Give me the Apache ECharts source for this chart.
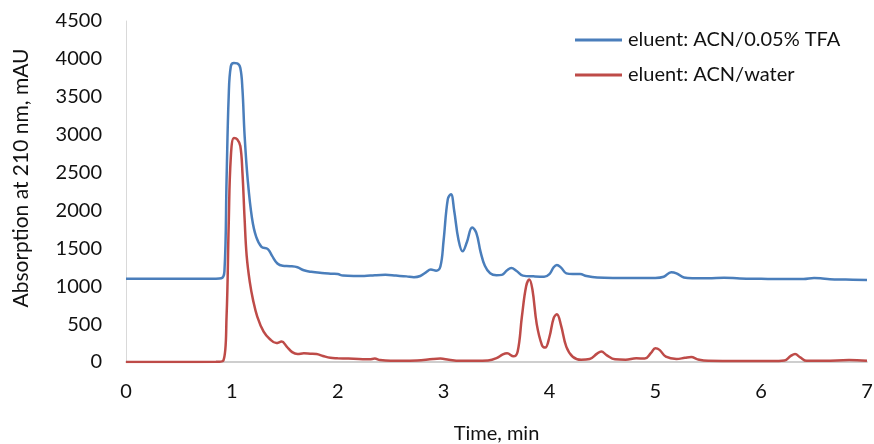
<!DOCTYPE html>
<html><head><meta charset="utf-8">
<script src="https://cdn.jsdelivr.net/npm/echarts@6/dist/echarts.min.js"></script>
<style>html,body{margin:0;padding:0;background:#fff}#c{width:874px;height:444px}</style>
</head><body><div id="c"></div>
<script>
const seriesNames = ['eluent: ACN/0.05% TFA', 'eluent: ACN/water'];
const timesBlue = [0,0.5,0.85,0.9,0.93,0.95,0.97,0.99,1.02,1.05,1.08,1.1,1.12,1.15,1.19,1.23,1.28,1.34,1.38,1.43,1.48,1.55,1.62,1.68,1.75,1.85,1.95,2.0,2.05,2.15,2.25,2.35,2.45,2.55,2.65,2.72,2.78,2.83,2.88,2.93,2.97,3.0,3.04,3.07,3.1,3.14,3.18,3.22,3.27,3.31,3.35,3.39,3.44,3.5,3.55,3.6,3.64,3.69,3.75,3.85,3.95,4.0,4.04,4.07,4.11,4.16,4.22,4.29,4.35,4.45,4.6,4.8,5.0,5.08,5.15,5.2,5.27,5.35,5.5,5.65,5.8,6.0,6.2,6.4,6.5,6.56,6.65,6.8,7.0];
const valuesBlue = [1100,1100,1100,1105,1200,2400,3500,3900,3945,3940,3880,3600,3000,2400,1900,1650,1520,1490,1400,1300,1270,1265,1250,1210,1190,1175,1165,1160,1140,1135,1135,1145,1150,1140,1130,1120,1135,1180,1220,1205,1260,1600,2150,2215,2000,1620,1460,1580,1775,1700,1450,1270,1170,1145,1150,1210,1240,1200,1140,1130,1125,1160,1250,1280,1245,1170,1160,1160,1135,1115,1110,1110,1110,1125,1185,1170,1115,1105,1105,1112,1102,1098,1095,1095,1108,1105,1092,1088,1082];
const timesRed = [0,0.5,0.85,0.92,0.95,0.97,0.99,1.02,1.05,1.08,1.1,1.12,1.14,1.17,1.2,1.24,1.3,1.36,1.42,1.47,1.52,1.57,1.62,1.68,1.74,1.8,1.86,1.93,2.0,2.1,2.2,2.3,2.35,2.4,2.5,2.6,2.75,2.9,2.97,3.05,3.15,3.3,3.42,3.5,3.56,3.6,3.66,3.7,3.74,3.78,3.81,3.84,3.88,3.93,3.96,4.0,4.04,4.07,4.11,4.16,4.22,4.3,4.38,4.45,4.49,4.54,4.62,4.72,4.82,4.9,4.96,5.0,5.04,5.1,5.2,5.28,5.34,5.4,5.5,5.8,6.1,6.22,6.28,6.32,6.37,6.43,6.6,6.83,7.0];
const valuesRed = [0,0,2,20,600,1800,2700,2955,2940,2850,2500,1900,1400,1050,820,600,400,300,250,270,200,130,105,115,110,105,80,55,50,45,40,35,45,25,15,15,20,40,45,30,15,15,20,50,100,115,75,140,600,1000,1090,950,500,220,190,330,580,630,480,200,70,30,40,110,140,90,35,30,50,45,120,180,160,70,40,55,65,35,15,12,12,20,80,105,60,15,15,25,15];
const xTicks = [0,1,2,3,4,5,6,7];
const yTicks = [0,500,1000,1500,2000,2500,3000,3500,4000,4500];
const xTitle = 'Time, min';
const yTitle = 'Absorption at 210 nm, mAU';

const zip = (t, v) => t.map((x, i) => [x, v[i]]);
const font = 'Lato, "Open Sans", sans-serif';
const chart = echarts.init(document.getElementById('c'), null, {renderer: 'canvas'});
chart.setOption({
  animation: false,
  backgroundColor: '#fff',
  grid: {left: 126, right: 7, top: 21, bottom: 82, containLabel: false, outerBoundsMode: 'none'},
  legend: {
    orient: 'vertical', left: 575, top: 30, itemGap: 15, padding: 0,
    itemWidth: 47, itemHeight: 3, icon: 'rect',
    textStyle: {fontFamily: font, fontSize: 20, color: '#111', padding: [0,0,0,1]},
    data: seriesNames
  },
  xAxis: {
    type: 'value', min: xTicks[0], max: xTicks[xTicks.length-1], interval: 1,
    name: xTitle, nameLocation: 'middle', nameGap: 62,
    nameTextStyle: {fontFamily: font, fontSize: 20, color: '#111'},
    axisLine: {show: true, lineStyle: {color: '#BFBFBF', width: 1.5}},
    axisTick: {show: false},
    splitLine: {show: false},
    axisLabel: {fontFamily: font, fontSize: 20, color: '#111', margin: 20,
      formatter: v => String(v)}
  },
  yAxis: {
    type: 'value', min: yTicks[0], max: yTicks[yTicks.length-1], interval: 500,
    axisLine: {show: true, lineStyle: {color: '#D9D9D9', width: 1}},
    axisTick: {show: false},
    splitLine: {show: false},
    axisLabel: {fontFamily: font, fontSize: 20, color: '#111', margin: 24,
      formatter: v => String(v)}
  },
  graphic: [{
    type: 'text', x: 21, y: 178, rotation: Math.PI / 2,
    style: {text: yTitle, font: '21px ' + font, fill: '#111', textAlign: 'center', textVerticalAlign: 'middle'}
  }],
  series: [
    {name: seriesNames[0], type: 'line', data: zip(timesBlue, valuesBlue), smooth: 0.4, showSymbol: false,
     lineStyle: {color: '#4A7EBB', width: 2.5}, itemStyle: {color: '#4A7EBB'}},
    {name: seriesNames[1], type: 'line', data: zip(timesRed, valuesRed), smooth: 0.4, showSymbol: false,
     lineStyle: {color: '#BE4B48', width: 2.5}, itemStyle: {color: '#BE4B48'}}
  ]
});
</script></body></html>
